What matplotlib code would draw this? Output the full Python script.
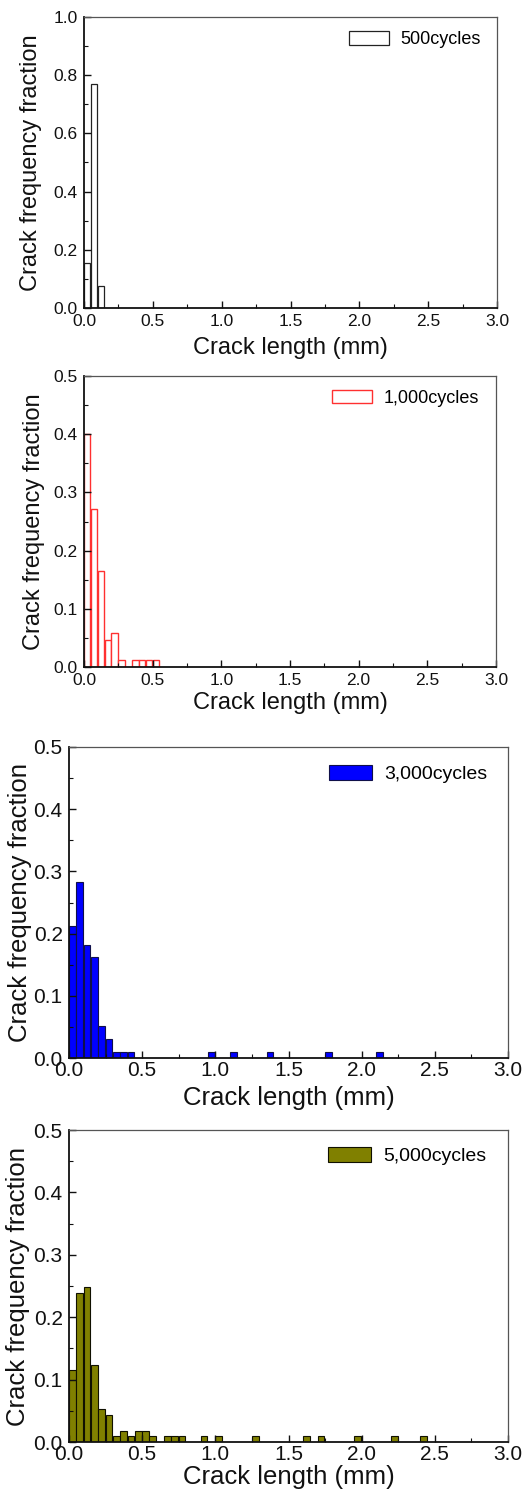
import matplotlib
matplotlib.use("Agg")
import matplotlib.pyplot as plt
from matplotlib.ticker import MultipleLocator, FormatStrFormatter

plt.rcParams['font.family'] = ['Liberation Sans', 'DejaVu Sans']

# Crack-length histograms (bin width 0.05 mm); left bin edges and fractions
edges_500 = [0.00, 0.05, 0.10]
frac_500 = [0.154, 0.769, 0.077]

edges_1000 = [0.00, 0.05, 0.10, 0.15, 0.20, 0.25, 0.35, 0.40, 0.45, 0.50]
frac_1000 = [0.400, 0.271, 0.165, 0.047, 0.059, 0.012, 0.012, 0.012, 0.012, 0.012]

edges_3000 = [0.00, 0.05, 0.10, 0.15, 0.20, 0.25, 0.30, 0.35, 0.40,
              0.95, 1.10, 1.35, 1.75, 2.10]
frac_3000 = [0.212, 0.283, 0.182, 0.162, 0.051, 0.030, 0.010, 0.010, 0.010,
             0.010, 0.010, 0.010, 0.010, 0.010]

edges_5000 = [0.00, 0.05, 0.10, 0.15, 0.20, 0.25, 0.30, 0.35, 0.40, 0.45,
              0.50, 0.55, 0.65, 0.70, 0.75, 0.90, 1.00, 1.25, 1.60, 1.70,
              1.95, 2.20, 2.40]
frac_5000 = [0.115, 0.239, 0.248, 0.124, 0.053, 0.044, 0.009, 0.018, 0.009,
             0.018, 0.018, 0.009, 0.009, 0.009, 0.009, 0.009, 0.009, 0.009,
             0.009, 0.009, 0.009, 0.009, 0.009]

labels = ["500cycles", "1,000cycles", "3,000cycles", "5,000cycles"]

fig = plt.figure(figsize=(5.22, 14.93), dpi=100)

W, H = 522.0, 1493.0


def make_axes(left, top, right, bottom):
    return fig.add_axes([left / W, 1 - bottom / H, (right - left) / W, (bottom - top) / H])


panels = [
    dict(box=(84, 17, 497, 308), edges=edges_500, vals=frac_500, ymax=1.0, ymaj=0.2,
         face='white', edge='#222222', lw=0.9, tick=12.5, lab=17, leg=13,
         width=0.047, xlab_y=-0.098, ylab_x=-0.102, leg_xy=(0.961, 0.923), xpad=4.5),
    dict(box=(84, 376, 496, 667), edges=edges_1000, vals=frac_1000, ymax=0.5, ymaj=0.1,
         face='white', edge='#ff3030', lw=1.0, tick=12.5, lab=17, leg=13,
         width=0.047, xlab_y=-0.086, ylab_x=-0.095, leg_xy=(0.959, 0.924), xpad=4.5),
    dict(box=(69, 747, 508, 1058), edges=edges_3000, vals=frac_3000, ymax=0.5, ymaj=0.1,
         face='#0000ff', edge='#10104a', lw=0.8, tick=15, lab=18.5, leg=14,
         width=0.046, xlab_y=-0.089, ylab_x=-0.085, leg_xy=(0.953, 0.913), xpad=2.5),
    dict(box=(69, 1130, 508, 1442), edges=edges_5000, vals=frac_5000, ymax=0.5, ymaj=0.1,
         face='#808000', edge='#101000', lw=0.8, tick=15, lab=18.5, leg=14,
         width=0.046, xlab_y=-0.074, ylab_x=-0.089, leg_xy=(0.951, 0.917), xpad=2.5),
]

for p, lab in zip(panels, labels):
    ax = make_axes(*p['box'])
    ax.bar(p['edges'], p['vals'], width=p['width'], align='edge',
           facecolor=p['face'], edgecolor=p['edge'], linewidth=p['lw'], label=lab)
    ax.set_xlim(0, 3.0)
    ax.set_ylim(0, p['ymax'])
    ax.xaxis.set_major_locator(MultipleLocator(0.5))
    ax.xaxis.set_minor_locator(MultipleLocator(0.25))
    ax.yaxis.set_major_locator(MultipleLocator(p['ymaj']))
    ax.yaxis.set_minor_locator(MultipleLocator(p['ymaj'] / 2))
    ax.xaxis.set_major_formatter(FormatStrFormatter('%.1f'))
    ax.yaxis.set_major_formatter(FormatStrFormatter('%.1f'))
    ax.tick_params(which='both', direction='in', top=False, right=False,
                   labelsize=p['tick'], colors='#111111')
    ax.tick_params(axis='y', pad=4.5)
    ax.tick_params(axis='x', pad=p['xpad'])
    ax.tick_params(which='major', length=5, width=1.0)
    ax.tick_params(which='minor', length=3, width=0.8)
    for s in ('left', 'bottom'):
        ax.spines[s].set_color('#111111')
        ax.spines[s].set_linewidth(1.3)
    for s in ('top', 'right'):
        ax.spines[s].set_color('#555555')
        ax.spines[s].set_linewidth(0.9)
    ax.set_xlabel('Crack length (mm)', fontsize=p['lab'], color='#111111')
    ax.set_ylabel('Crack frequency fraction', fontsize=p['lab'], color='#111111')
    ax.xaxis.set_label_coords(0.5, p['xlab_y'])
    ax.yaxis.set_label_coords(p['ylab_x'], 0.5)
    ax.legend(loc='center right', bbox_to_anchor=p['leg_xy'], frameon=False,
              fontsize=p['leg'], handlelength=2.2, handleheight=0.8,
              handletextpad=0.65, borderpad=0, borderaxespad=0)

fig.savefig('out.png', dpi=100)
